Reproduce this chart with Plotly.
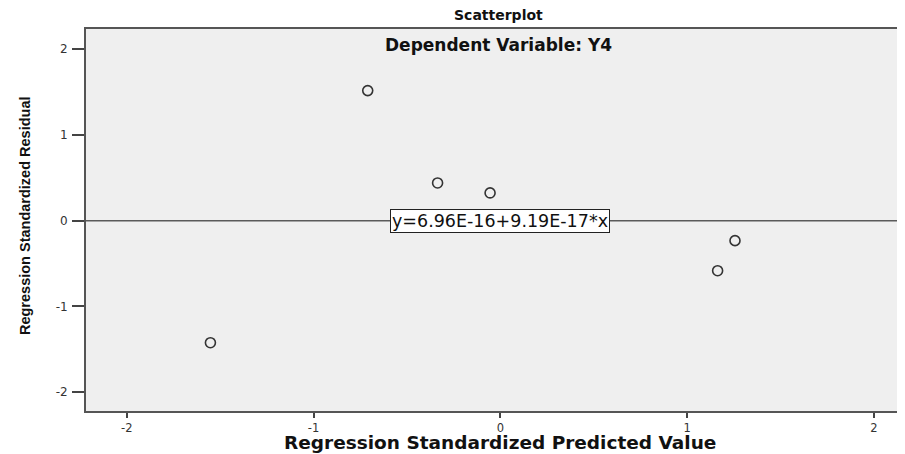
import plotly.graph_objects as go

# Data
pred_values = [-0.710, -0.336, -0.055, 1.256, 1.163, -1.552]
resid_values = [1.515, 0.439, 0.323, -0.233, -0.583, -1.422]
fit_intercept = 6.96e-16
fit_slope = 9.19e-17
fit_label = "y=6.96E-16+9.19E-17*x"
x_ticks = [-2, -1, 0, 1, 2]
x_tick_labels = ["-2", "-1", "0", "1", "2"]
y_ticks = [-2, -1, 0, 1, 2]
y_tick_labels = ["-2", "-1", "0", "1", "2"]

x_range = [-2.218, 2.166]
y_range = [-2.218, 2.233]

fig = go.Figure()

fit_x = list(x_range)
fit_y = [fit_intercept + fit_slope * v for v in fit_x]
fig.add_trace(go.Scatter(x=fit_x, y=fit_y, mode="lines",
                         line=dict(color="#5a5a5a", width=1.5),
                         hoverinfo="skip", showlegend=False))

fig.add_trace(go.Scatter(x=pred_values, y=resid_values, mode="markers",
                         marker=dict(symbol="circle-open", size=10, color="#333333",
                                     line=dict(color="#333333", width=1.6)),
                         showlegend=False))

fig.add_annotation(x=0, y=fit_intercept, xref="x", yref="y", text=fit_label,
                   showarrow=False, bgcolor="white", bordercolor="#222222",
                   borderwidth=1, borderpad=1,
                   font=dict(family="DejaVu Sans", size=17.5, color="#111111"))

fig.add_annotation(x=0.504, y=1.036, xref="paper", yref="paper", text="<b>Scatterplot</b>",
                   showarrow=False, yanchor="middle",
                   font=dict(family="DejaVu Sans", size=14, color="#111111"))
fig.add_annotation(x=0.504, y=0.958, xref="paper", yref="paper",
                   text="<b>Dependent Variable: Y4</b>", showarrow=False, yanchor="middle",
                   font=dict(family="DejaVu Sans", size=17, color="#111111"))
fig.add_annotation(x=0.5055, y=-0.0825, xref="paper", yref="paper",
                   text="<b>Regression Standardized Predicted Value</b>", showarrow=False,
                   yanchor="middle",
                   font=dict(family="DejaVu Sans", size=18.5, color="#111111"))
fig.add_annotation(x=-0.0745, y=0.513, xref="paper", yref="paper",
                   text="<b>Regression Standardized Residual</b>", showarrow=False,
                   textangle=-90, xanchor="center", yanchor="middle",
                   font=dict(family="Liberation Sans", size=14.5, color="#111111"))

# The page body has an 8px margin, so the figure is sized to fit inside it
fig.update_layout(
    width=897, height=446,
    margin=dict(l=78, r=0, t=21, b=43),
    paper_bgcolor="white", plot_bgcolor="#efefef",
    xaxis=dict(range=x_range, tickvals=x_ticks, ticktext=x_tick_labels,
               ticks="outside", ticklen=5,
               tickwidth=2, tickcolor="#444444", showgrid=False, zeroline=False,
               showline=True, linecolor="#555555", linewidth=2, mirror=True,
               tickfont=dict(family="DejaVu Sans", size=11.5, color="#333333")),
    yaxis=dict(range=y_range, tickvals=y_ticks, ticktext=y_tick_labels,
               ticks="outside", ticklen=12,
               tickwidth=1.5, tickcolor="#444444", showgrid=False, zeroline=False,
               showline=True, linecolor="#555555", linewidth=2,
               ticklabelstandoff=2,
               tickfont=dict(family="DejaVu Sans", size=12, color="#333333")),
)

fig.write_html("out.html")
